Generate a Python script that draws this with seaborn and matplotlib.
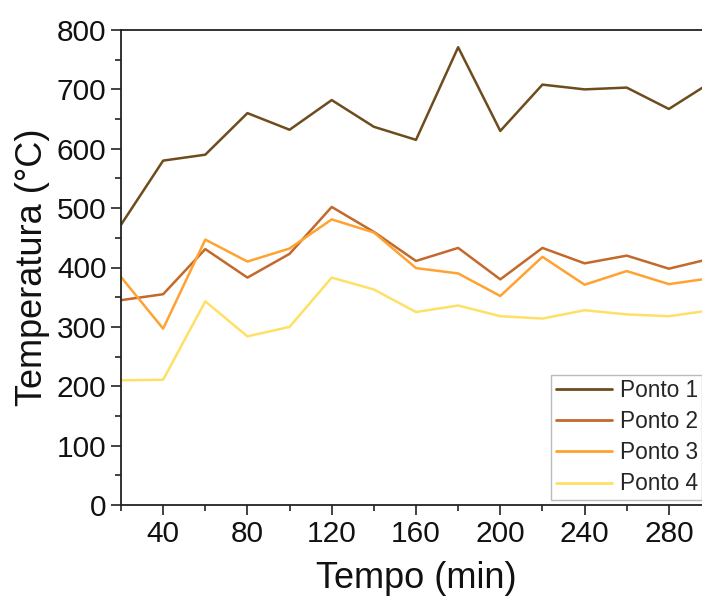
import numpy as np
import pandas as pd
import matplotlib
matplotlib.use("Agg")
import matplotlib.pyplot as plt
from matplotlib.ticker import MultipleLocator
import seaborn as sns

# Temperature readings at four measurement points over time
tempo = [20, 40, 60, 80, 100, 120, 140, 160, 180, 200, 220, 240, 260, 280, 300]
ponto1 = [472, 580, 590, 660, 632, 682, 637, 615, 771, 630, 708, 700, 703, 667, 712]
ponto2 = [345, 355, 431, 383, 423, 502, 460, 411, 433, 380, 433, 407, 420, 398, 415]
ponto3 = [384, 297, 447, 410, 432, 481, 459, 399, 390, 352, 418, 371, 394, 372, 382]
ponto4 = [210, 211, 343, 284, 300, 383, 363, 325, 336, 318, 314, 328, 321, 318, 328]

series_names = ["Ponto 1", "Ponto 2", "Ponto 3", "Ponto 4"]
series_values = [ponto1, ponto2, ponto3, ponto4]
colors = ["#6E4C1E", "#C2692B", "#FFA232", "#FFE066"]

x_ticks = [40, 80, 120, 160, 200, 240, 280]
y_ticks = [0, 100, 200, 300, 400, 500, 600, 700, 800]

df = pd.concat(
    [pd.DataFrame({"Tempo": tempo, "Temperatura": vals, "Ponto": name})
     for name, vals in zip(series_names, series_values)],
    ignore_index=True,
)

sns.set_theme(style="ticks")
plt.rcParams["font.family"] = ["Liberation Sans", "DejaVu Sans"]

fig = plt.figure(figsize=(7.02, 6.06), dpi=100)
ax = fig.add_axes([121 / 702, 101 / 606, 590 / 702, 475 / 606])

sns.lineplot(data=df, x="Tempo", y="Temperatura", hue="Ponto",
             palette=colors, linewidth=1.8, ax=ax, legend=True)

ax.set_xlim(20, 300)
ax.set_ylim(0, 800)
ax.set_xticks(x_ticks)
ax.set_yticks(y_ticks)
ax.xaxis.set_minor_locator(MultipleLocator(20))
ax.yaxis.set_minor_locator(MultipleLocator(50))
ax.tick_params(which="major", direction="out", length=7, width=1.2,
               labelsize=21.5, color="#222222", labelcolor="#111111")
ax.tick_params(which="minor", direction="out", length=4, width=1.2,
               color="#222222")
for sp in ax.spines.values():
    sp.set_linewidth(1.3)
    sp.set_color("#222222")

ax.set_xlabel("Tempo (min)", fontsize=26, labelpad=10, color="#111111")
ax.set_ylabel("Temperatura (°C)", fontsize=26, labelpad=5, color="#111111")

leg = ax.legend(loc="lower left", bbox_to_anchor=(0.729, 0.0105),
                borderaxespad=0, fontsize=16.3, frameon=True, fancybox=False,
                edgecolor="#AAAAAA", handlelength=2.5, handletextpad=0.33,
                labelspacing=0.36, borderpad=0.2)
leg.get_frame().set_linewidth(1.0)
for line in leg.get_lines():
    line.set_linewidth(2.0)

fig.savefig("out.png", dpi=100)
